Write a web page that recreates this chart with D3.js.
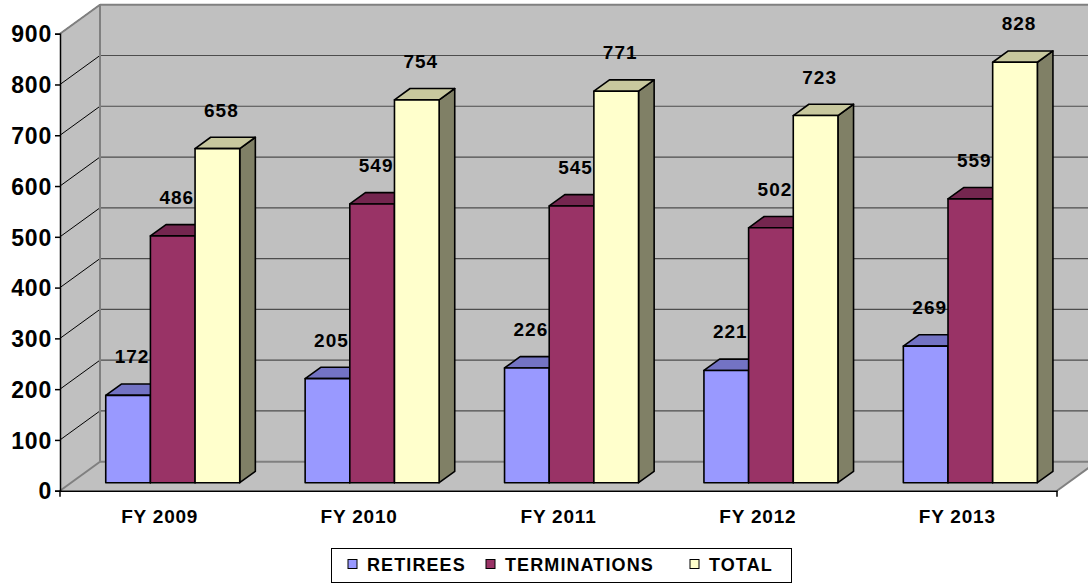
<!DOCTYPE html>
<html><head><meta charset="utf-8">
<script src="https://cdn.jsdelivr.net/npm/d3@7"></script>
<style>
html,body{margin:0;padding:0;background:#fff;}
svg text{font-family:"Liberation Sans",Arial,sans-serif;font-weight:bold;fill:#000;}
</style></head>
<body><svg id="chart" width="1088" height="585"></svg>
<script>
const categories = ["FY 2009","FY 2010","FY 2011","FY 2012","FY 2013"];
const seriesNames = ["RETIREES","TERMINATIONS","TOTAL"];
const retirees = [172,205,226,221,269];
const terminations = [486,549,545,502,559];
const total = [658,754,771,723,828];
const yTicks = [0,100,200,300,400,500,600,700,800,900];

const seriesValues = [retirees, terminations, total];
const colors = {
  front: ["#9999FF","#993366","#FFFFCC"],
  top:   ["#7373C4","#74264F","#C8C89E"],
  side:  ["#5C5C99","#5C1F3D","#808066"]
};

const svg = d3.select("#chart");
const wall = "#C0C0C0", edge = "#808080";
const DX = 40, DY = -29;            // depth offset of the back wall
const x0 = 60, x1 = 1057;

const y = d3.scaleLinear().domain([0,900]).range([490.7,33.7]);
const xCat = d3.scaleBand().domain(categories).range([x0+2,x1+2]).paddingInner(0.328).paddingOuter(0.164);
const xSer = d3.scaleBand().domain(seriesNames).range([0,xCat.bandwidth()]);
const xStep = d3.scaleBand().domain(categories).range([x0,x1]);

const P = (x,yy,d)=>[x+DX*d, yy+DY*d];
const poly = pts => pts.map(p=>p.join(",")).join(" ");

// side wall
svg.append("polygon").attr("points", poly([P(x0,y(0),0),P(x0,y(900),0),P(x0,y(900),1),P(x0,y(0),1)])).attr("fill",wall);
// back wall
svg.append("polygon").attr("points", poly([P(x0,y(0),1),P(x0,y(900),1),P(x1,y(900),1),P(x1,y(0),1)])).attr("fill",wall);
// floor
svg.append("polygon").attr("points", poly([P(x0,y(0),0),P(x1,y(0),0),P(x1,y(0),1),P(x0,y(0),1)])).attr("fill",wall);

// gridlines
yTicks.filter(t=>t>0).forEach(t=>{
  const a=P(x0,y(t),0), b=P(x0,y(t),1), c=P(x1,y(t),1);
  svg.append("line").attr("x1",a[0]).attr("y1",a[1]).attr("x2",b[0]).attr("y2",b[1]).attr("stroke","#000").attr("stroke-width",1);
  if (t<900) svg.append("line").attr("x1",b[0]).attr("y1",b[1]).attr("x2",c[0]).attr("y2",c[1]).attr("stroke","#4d4d4d").attr("stroke-width",1.2);
});
// wall edges
const edges = [
  [P(x0,y(0),1),P(x0,y(900),1)],
  [P(x0,y(900),1),P(x1,y(900),1)],
  [P(x0,y(900),0),P(x0,y(900),1)],
  [P(x0,y(0),0),P(x0,y(0),1)],
  [P(x0,y(0),1),P(x1,y(0),1)],
  [P(x1,y(0),0),P(x1,y(0),1)]
];
edges.forEach(([a,b])=>svg.append("line").attr("x1",a[0]).attr("y1",a[1]).attr("x2",b[0]).attr("y2",b[1]).attr("stroke",edge).attr("stroke-width",2));

// bars
const d0 = 0.276, d1 = 0.666;
const gBars = svg.append("g");
categories.forEach((cat,ci)=>{
  seriesNames.forEach((s,si)=>{
    const v = seriesValues[si][ci];
    const xl = xCat(cat)+xSer(s), xr = xl + xSer.bandwidth();
    const yt = y(v), yb = y(0);
    const g = gBars.append("g");
    g.append("polygon").attr("points", poly([P(xr,yb,d0),P(xr,yt,d0),P(xr,yt,d1),P(xr,yb,d1)]))
      .attr("fill",colors.side[si]).attr("stroke","#000").attr("stroke-width",1.6).attr("stroke-linejoin","round");
    g.append("polygon").attr("points", poly([P(xl,yt,d0),P(xr,yt,d0),P(xr,yt,d1),P(xl,yt,d1)]))
      .attr("fill",colors.top[si]).attr("stroke","#000").attr("stroke-width",1.6).attr("stroke-linejoin","round");
    g.append("polygon").attr("points", poly([P(xl,yb,d0),P(xr,yb,d0),P(xr,yt,d0),P(xl,yt,d0)]))
      .attr("fill",colors.front[si]).attr("stroke","#000").attr("stroke-width",1.6).attr("stroke-linejoin","round");
  });
});
// data labels
categories.forEach((cat,ci)=>{
  seriesNames.forEach((s,si)=>{
    const v = seriesValues[si][ci];
    const cx = xCat(cat)+xSer(s)+xSer.bandwidth()/2 + DX*d0 + 4;
    svg.append("text").attr("x",cx).attr("y",y(v)+DY*d0 - 32)
      .attr("text-anchor","middle").attr("font-size",19).attr("letter-spacing",1).text(v);
  });
});

// axes
const yAxis = svg.append("g").attr("transform",`translate(${x0},0)`)
  .call(d3.axisLeft(y).tickValues(yTicks).tickSize(5).tickPadding(3));
yAxis.select(".domain").attr("stroke","#000").attr("stroke-width",1.5);
yAxis.selectAll(".tick line").attr("stroke","#000").attr("stroke-width",1.5);
yAxis.selectAll("text").attr("font-size",23).attr("font-family","Liberation Sans, Arial").attr("font-weight","bold").attr("letter-spacing",0.8).attr("dy","0.36em").attr("fill","#000");

const xAxis = svg.append("g").attr("transform",`translate(0,${y(0)})`)
  .call(d3.axisBottom(xStep).tickSize(0).tickPadding(19));
xAxis.select(".domain").attr("stroke","#000").attr("stroke-width",1.5);
xAxis.selectAll("text").attr("font-size",19).attr("font-family","Liberation Sans, Arial").attr("font-weight","bold").attr("letter-spacing",0.8).attr("fill","#000");
[x0,x1].forEach(xx=>svg.append("line").attr("x1",xx).attr("x2",xx).attr("y1",y(0)).attr("y2",y(0)+6).attr("stroke","#000").attr("stroke-width",1.5));

// legend
const lg = svg.append("g");
lg.append("rect").attr("x",331.5).attr("y",548.5).attr("width",460).attr("height",34).attr("fill","#fff").attr("stroke","#000").attr("stroke-width",1);
const legX = d3.scaleOrdinal().domain(seriesNames).range([348,486,690]);
seriesNames.forEach((s,si)=>{
  const lx = legX(s);
  lg.append("rect").attr("x",lx).attr("y",559.5).attr("width",9).attr("height",9).attr("fill",colors.front[si]).attr("stroke","#000").attr("stroke-width",1);
  lg.append("text").attr("x",lx+19).attr("y",571).attr("font-size",18).attr("letter-spacing",1.1).text(s);
});
</script></body></html>
